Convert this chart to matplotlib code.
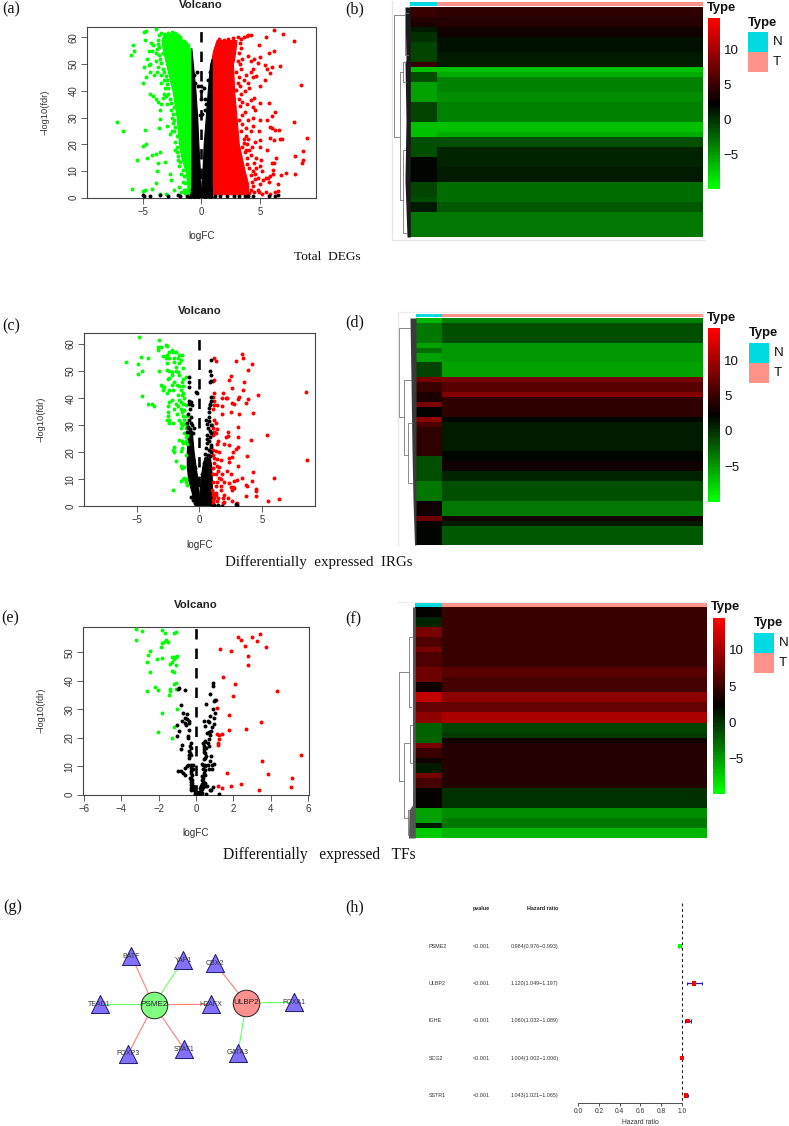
import matplotlib
matplotlib.use('Agg')
import matplotlib.pyplot as plt
from matplotlib.colors import LinearSegmentedColormap, Normalize
from matplotlib.cm import ScalarMappable
from matplotlib.transforms import blended_transform_factory

plt.rcParams['font.family'] = ['Liberation Sans', 'DejaVu Sans']

W, H = 789, 1126

# ---- panel a: dense core of the cloud is read as bands, the rest as single points
a_green_y = [1.3, 5, 10, 15, 20, 25, 30, 40, 50, 56, 59, 61.5]
a_green_left = [-1.15, -1.2, -1.35, -1.7, -1.9, -2.0, -2.1, -2.45, -3.0, -3.3, -3.4, -3.2]
a_green_right = [-.85, -.85, -.85, -.85, -.85, -.85, -.85, -.85, -.85, -.95, -1.6, -2.2]
a_black_left_y = [0, 1, 5, 10, 20, 30, 40, 50, 56]
a_black_left_out = [-1, -.92, -.86, -.85, -.85, -.85, -.85, -.85, -.85]
a_black_left_in = [0, 0, -.05, -.12, -.25, -.35, -.5, -.72, -.85]
a_black_right_y = [0, 1, 5, 10, 20, 30, 40, 50, 52]
a_black_right_in = [0, 0, .05, .1, .2, .38, .55, .75, .88]
a_black_right_out = [1, .92, .88, .88, .88, .88, .88, .88, .88]
a_red_y = [1.3, 5, 10, 20, 30, 40, 50, 52, 55, 59]
a_red_left = [.88, .88, .88, .88, .88, .88, .88, .88, 1.0, 1.3]
a_red_right = [4.0, 4.0, 3.7, 3.2, 3.0, 2.8, 2.7, 2.8, 2.9, 3.0]
a_green = [(-7.2, 28.5), (-6.7, 25), (-5.9, 3.4), (-5.5, 14), (-5.0, 2.6), (-4.8, 2.8), (-5.0, 19.5), (-4.7, 20.3),
           (-4.8, 25.3), (-4.6, 14.8), (-4.2, 16), (-3.9, 16.2), (-3.7, 13), (-3.5, 17), (-3.8, 10), (-3.9, 5.5),
           (-4.2, 3.2), (-3.5, 1.5), (-3.1, 13.2), (-3.0, 1.5), (-2.7, 8.8), (-2.6, 6.5), (-2.3, 3), (-3.6, 26),
           (-3.5, 29.5), (-2.9, 27), (-2.7, 24), (-2.5, 25), (-2.2, 21), (-2.1, 19), (-6, 53.5), (-5.8, 57),
           (-5.7, 55), (-4.9, 62), (-4.7, 62.5), (-4.8, 59), (-3.9, 63), (-4.9, 49), (-4.5, 49.5), (-5, 43),
           (-4.7, 45), (-4.4, 47), (-4.6, 52), (-4.4, 50), (-4.2, 55), (-4.1, 57), (-3.9, 54), (-3.6, 56.5),
           (-3.5, 52), (-4, 46), (-3.8, 47), (-3.4, 46), (-4.4, 39), (-4.1, 38), (-3.9, 37), (-3.7, 36),
           (-3.2, 39), (-3, 38), (-2.9, 35), (-3.4, 35), (-3.5, 33), (-2.9, 44), (-3.1, 41), (-4.3, 58),
           (-4.5, 55), (-3.7, 59), (-3.6, 61), (-3.3, 48), (-3.2, 44), (-2.8, 41), (-2.7, 37), (-2.6, 33),
           (-2.5, 30), (-2.4, 28), (-2.3, 25), (-2.3, 34), (-2.1, 17), (-2, 14), (-1.9, 12), (-1.7, 9),
           (-1.6, 6), (-1.5, 3), (-1.7, 2), (-1.9, 4), (-3.4, 61.8), (-3.1, 61.2), (-2.8, 61.6), (-2.5, 61.9),
           (-2.2, 61.5), (-2, 60.8), (-1.8, 60), (-1.5, 58.5), (-1.3, 57.8), (-1.1, 57), (-3.7, 57.5), (-3.8, 55.5),
           (-3.6, 53.5), (-3.9, 51), (-3.3, 54), (-3.4, 50.5), (-3.7, 49), (-3.2, 47), (-3, 45.5), (-3.4, 43),
           (-2.9, 42.5), (-2.8, 39), (-3.3, 37.5), (-2.6, 35.5), (-2.4, 31.5), (-2.3, 29), (-2.2, 26.5), (-2.1, 23),
           (-2.2, 18), (-1.95, 15.5), (-1.8, 13.5), (-1.6, 10.5), (-1.45, 8), (-1.35, 5.5), (-1.3, 3), (-1.4, 1.8)]
a_red = [(6.2, 62.8), (7, 61.3), (7.9, 58.5), (5.5, 60), (4.2, 61), (4.9, 57), (6.2, 55), (5.8, 54), (4, 53),
         (4.5, 52), (5, 52.5), (4.8, 50.5), (4.2, 51), (5.4, 49.5), (6.0, 49), (6.7, 49.2), (5.6, 48), (5.9, 46.5),
         (8.5, 42.3), (5.4, 44), (4.7, 45.5), (4.4, 45), (3.8, 46), (4.2, 47), (4.4, 48), (3.6, 44), (4, 43),
         (5, 42), (4.1, 41), (3.7, 40), (4.5, 37.5), (4.2, 36.5), (5.0, 35.5), (5.8, 35.5), (4.4, 34), (4.6, 33),
         (3.9, 35), (6.3, 32), (6, 30.5), (5.6, 29), (4.4, 30), (4, 29), (7.9, 28.5), (5.0, 29), (5.9, 26.5),
         (6, 26), (6.3, 25.5), (6.6, 25.3), (4.4, 27), (4.2, 25), (4.9, 25), (3.8, 26), (9.0, 22.2), (6.9, 22),
         (6.7, 22), (6.2, 21.5), (5.9, 22.5), (5, 21.5), (4.6, 21), (4, 22), (3.9, 20), (4.3, 19), (5, 19),
         (5.6, 18), (8.7, 17.5), (8, 15.5), (8.7, 14), (8.6, 13), (6.4, 15), (6, 13), (6.2, 13), (5.1, 14),
         (4.7, 15), (4.2, 16), (4.5, 13), (5, 12), (4.7, 11), (6.8, 8.5), (7.2, 9.2), (8, 9), (6.1, 10.5),
         (6.1, 9), (5.9, 8), (5.7, 7.5), (5.5, 7.5), (6.5, 5.2), (5.8, 6), (5, 5), (5.5, 2), (6.3, 2.3),
         (6.5, 2.5), (5.9, 1.3), (5.2, 1.3), (3.4, 59.5), (3.6, 60), (3.9, 60.5), (4.0, 61), (3.5, 52), (3.4, 48),
         (3.3, 42), (3.5, 36), (3.7, 32), (3.8, 23), (4.1, 18), (4.4, 10), (4.6, 7), (4.8, 3), (4.5, 2),
         (1.5, 59.5), (1.9, 59), (2.3, 59.3), (2.7, 59.8), (3.1, 60), (3.3, 58), (3.4, 56), (3.2, 54), (3.1, 51),
         (3.3, 50), (3.0, 47), (3.2, 45), (3.1, 43), (3.0, 40.5), (3.4, 39), (3.2, 37), (3.3, 34.5), (3.5, 31),
         (3.2, 29), (3.5, 27.5), (3.4, 25), (3.6, 22), (3.5, 19), (3.7, 17), (3.9, 15), (3.9, 12.5), (4.1, 11),
         (4.2, 8.5), (4.3, 6), (4.4, 4.5), (4.2, 2.8), (4.1, 1.6), (3.8, 1.4), (3.6, 20.5), (3.8, 18), (4.6, 9),
         (4.8, 7.5), (5.2, 10), (5.3, 6.5), (4.9, 2.2)]
a_black = [(-5, 1), (-4.9, .5), (-4.4, .7), (-3.5, 1), (-2.8, .5), (-2, 1), (-1.8, .8), (-1.2, .7), (-.9, .9), (1.2, .6),
           (1.6, .7), (2.2, .6), (2.8, .6), (3.2, .7), (3.7, .8), (4, .7), (4.4, .5), (6.5, .9), (6.3, .6), (5.8, .6),
           (-.4, 47), (-.25, 42), (0, 42), (0, 40), (-.05, 37), (.2, 41), (-.1, 31), (.1, 31.5), (.35, 37), (.4, 35),
           (.3, 33), (-.65, 46), (-.55, 43), (.6, 44), (.7, 47), (-1, .3), (-.6, .4), (-.3, .4), (.3, .4), (.7, .4)]

# ---- panel c
c_black_left_y = [0, 1, 5, 10, 15, 20, 25, 28]
c_black_left_out = [-.3, -.45, -.6, -.9, -1, -1, -.95, -.8]
c_black_left_in = [.1, 0, -.05, -.15, -.3, -.45, -.55, -.6]
c_black_right_y = [0, 1, 5, 10, 15, 18]
c_black_right_in = [.1, 0, .02, .1, .25, .4]
c_black_right_out = [1.5, 1.1, 1, 1, .95, .85]
c_green = [(-4.8, 62.8), (-3.2, 61.5), (-2.7, 59.5), (-2.6, 59.3), (-3.3, 59), (-3.1, 59), (-3.3, 58), (-2.2, 58),
           (-2.4, 57), (-2.1, 57), (-1.9, 57), (-2.6, 56), (-1.6, 56), (-1.4, 56), (-2.9, 55.5), (-2.7, 55),
           (-2.4, 55), (-2, 55), (-1.7, 55), (-4.7, 55.3), (-4.1, 55), (-1.5, 54), (-2.6, 53), (-2, 53.5), (-1.6, 53),
           (-5.9, 53.2), (-4.9, 52.8), (-1.9, 51.5), (-1.3, 51), (-2.6, 50.5), (-2.4, 50), (-1.9, 50), (-3.2, 50),
           (-4.6, 50.2), (-4.9, 49), (-2.2, 49.5), (-1.7, 49.5), (-2.2, 48.5), (-1.6, 48.5), (-1.1, 48), (-2.4, 47.5),
           (-2.5, 47), (-1.3, 47), (-2, 46), (-1.4, 46), (-3.1, 45), (-3, 44.5), (-2.8, 44), (-2.2, 45), (-1.8, 45),
           (-1.6, 44.5), (-1.3, 44.5), (-2.9, 43), (-2.4, 43), (-2.1, 43), (-1.5, 43), (-1.3, 42), (-2.6, 42),
           (-1.7, 41), (-1.4, 41), (-4.6, 40.8), (-1.2, 40), (-1.6, 39.5), (-2.2, 39.5), (-2.4, 38.5), (-1.5, 38.5),
           (-1.3, 38), (-1.9, 38), (-1.1, 37.5), (-4.1, 38), (-3.8, 37.8), (-3.6, 37), (-2.5, 37), (-1.7, 37),
           (-2.0, 36), (-1.5, 36), (-1.2, 35.5), (-2.5, 35), (-1.4, 35), (-1.8, 34), (-2.5, 33.5), (-1.3, 33.5),
           (-1.0, 33.5), (-2.6, 32), (-2.4, 32), (-1.6, 32), (-1.2, 32), (-2.4, 31), (-2.1, 31), (-1.5, 31),
           (-1.2, 30.5), (-1.4, 30), (-1.0, 30), (-1.5, 29), (-1.1, 29), (-1.2, 27), (-.95, 26.5), (-1.1, 25.5),
           (-1.6, 24.5), (-1.4, 24.3), (-1.1, 24), (-1.3, 23.5), (-.95, 23), (-2, 22), (-1.4, 21.7), (-2.1, 21),
           (-1.5, 20.5), (-2, 20), (-1.1, 19), (-1.9, 16.7), (-1.5, 15), (-1.2, 14.5), (-1.4, 14), (-1.2, 10.5),
           (-1.3, 10), (-1.1, 10), (-1.5, 9.5), (-1.1, 9), (-1, 8), (-2.1, 6)]
c_red = [(3.4, 56.3), (3.5, 55), (1.2, 55), (1.3, 53.7), (2.9, 53.7), (4.2, 52.8), (3.9, 50.3), (2.5, 48.3), (2.4, 46.8),
         (1.2, 46.8), (1.1, 46.5), (3.6, 46), (2.6, 43.7), (3.5, 43), (1.2, 42), (1.9, 42), (4.7, 41.2), (8.5, 42.3),
         (1.1, 40.5), (1.8, 40), (2.1, 40), (2.2, 40), (3.2, 40.3), (3.1, 39.8), (3.9, 39.7), (3.7, 38.2), (1.2, 39),
         (2.6, 38.3), (2.8, 38), (1.2, 37.3), (1.4, 37.3), (1.8, 37), (1.1, 36), (2.5, 35), (1.8, 34.3), (3.2, 34.3),
         (4.3, 34.6), (1.2, 32), (1.3, 31), (1, 30), (3.1, 29.5), (1.1, 29), (1.4, 28.5), (1.2, 27.5), (1.3, 27),
         (1.1, 26.5), (2.3, 27.5), (5.4, 26.5), (2.3, 26), (2.1, 25.5), (3.1, 25.5), (1.5, 24), (1.4, 23), (2.0, 23),
         (2.4, 22.5), (4.1, 24.5), (2.9, 21.3), (3.1, 22), (1.1, 21), (1.3, 20.5), (1.6, 20), (2.7, 20), (3.8, 18.7),
         (2.4, 18), (2.6, 18.3), (1.1, 19), (1.2, 18), (1.4, 17.5), (8.6, 17.3), (1.7, 17), (2.4, 16.5), (1.2, 16),
         (1.4, 15), (1.6, 14.5), (3.1, 15), (1.1, 14), (1.5, 13), (2.2, 13), (4.3, 12.7), (1.1, 12), (1.3, 12), (1.8, 12),
         (2.5, 12), (1.6, 10.5), (3.4, 10.3), (6, 10.5), (1.7, 10), (3.0, 9.7), (2.8, 9.3), (4.2, 9.3), (1.1, 9), (1.4, 9),
         (2, 9), (2.4, 8.7), (3.7, 7.8), (3.8, 7.5), (1.3, 7.5), (1.7, 7.5), (2.7, 7.3), (2.5, 7), (2.8, 6.8), (2.6, 6.2),
         (4.5, 6.5), (1.0, 6), (1.1, 5), (1.3, 5), (1.7, 6), (4.5, 5.5), (1.1, 4), (1.3, 4), (2, 4), (3.7, 3.8), (4.5, 3.8),
         (1.2, 3), (1.5, 3), (1.9, 3.2), (2.3, 3), (1.1, 2.2), (1.4, 2), (2.6, 2), (5.5, 1.8), (6.4, 2.6), (1.1, 1.3),
         (1.9, 1.3), (3, 1.3), (2, 1.5)]
c_black = [(-.8, 48), (-.85, 46), (-.8, 44), (-.3, 42.3), (-.2, 42), (.95, 54), (.85, 50), (.95, 48.5), (.9, 46.5), (.85, 45.8),
           (.9, 40.5), (.9, 39), (.85, 38), (.85, 37.5), (.8, 36.5), (.75, 35), (-.85, 39), (-.7, 38.5), (-.8, 38), (-.6, 37.5),
           (-.75, 36), (-.9, 34), (-.7, 33), (-.85, 32), (-.95, 31), (-.7, 31), (-.6, 30), (-.9, 29.5), (.55, 32), (.75, 33),
           (.8, 31.5), (.6, 30.5), (.9, 30), (.7, 29), (.85, 28), (.95, 27), (.6, 25), (.75, 24), (.6, 23.5), (2.9, .7),
           (3.0, .3), (1.8, .2), (1.5, .3), (-.7, 3.5), (-.5, 2.5), (1.2, .5), (1.1, .2), (.55, 21.5), (.75, 21), (.9, 22),
           (.95, 20), (.45, 19.5), (.7, 19), (.85, 18.5), (.5, 18), (-.9, 29), (-.75, 28.5), (-.95, 27.5), (-.45, 29),
           (-.5, 27), (.4, 16), (.35, 14), (.25, 12), (-.35, 14), (-.2, 10), (-.1, 8), (.95, 22.5), (.65, 26.5), (.85, 25.5)]

# ---- panel e
e_green = [(-3.2, 58.2), (-2.9, 57.5), (-1.8, 58), (-1.65, 56.7), (-1.2, 56.8), (-1.1, 57.3), (-3.2, 54.2), (-1.6, 54.3),
           (-1.7, 53.5), (-1.5, 53.7), (-1.85, 53.2), (-1.9, 52), (-2.45, 50.6), (-2.6, 49.2), (-1.85, 48), (-2.1, 47.7),
           (-1.3, 48.3), (-1.15, 48.3), (-1.05, 48.8), (-1.1, 48.2), (-1.2, 47.5), (-2.65, 46.7), (-1.3, 46.5), (-1.4, 46),
           (-1.07, 45.7), (-2.45, 43.1), (-1.3, 43.3), (-1.17, 43.2), (-1.2, 39), (-1.1, 39.2), (-2.2, 38), (-2.05, 36.8),
           (-2.65, 36.5), (-1.4, 37), (-1.4, 36.3), (-1.07, 37), (-1.45, 34.9), (-1.05, 30), (-1.85, 28.8), (-1.2, 23.9),
           (-2.05, 22), (-1.3, 19.8)]
e_red = [(3.4, 56.6), (2.25, 55.4), (3.0, 55.5), (2.4, 54.2), (3.25, 54), (2.6, 52.1), (3.75, 52), (1.3, 51.3), (1.85, 50.6),
         (2.8, 48.6), (2.8, 45.7), (1.45, 41.2), (2.1, 39), (4.35, 36.4), (1.95, 34.5), (1.08, 33.2), (1.1, 30.5), (1.75, 27.9),
         (3.5, 25.4), (1.75, 22.9), (2.65, 23), (1.1, 21.4), (1.2, 21), (1.4, 21.2), (1.2, 19.5), (1.17, 18), (1.17, 17.6),
         (5.6, 13.8), (3.55, 11.9), (1.65, 7.6), (3.85, 7.4), (5.13, 5.9), (2.4, 3.6), (1.85, 2.9), (5.1, 2.7), (1.17, 2.9),
         (1.37, 2.4), (3.35, 1.5)]
e_black = [(-.9, 37.5), (-.95, 37.2), (-.6, 36.7), (.9, 39.3), (.9, 38.2), (.75, 35.4), (1.0, 33.2), (.95, 33), (-.8, 31.6),
           (.55, 31.9), (.9, 30), (-.7, 28.6), (-.5, 28.5), (1.0, 28.8), (-.6, 27), (-.5, 26.6), (-.75, 26), (-.6, 25.3), (-.4, 26),
           (-.55, 24.5), (-1.0, 24.5), (-.4, 25.3), (.4, 25.8), (.65, 26), (.7, 25.5), (.75, 27.5), (.95, 27), (.45, 24), (.85, 23.8),
           (.95, 25), (-.9, 22.3), (-.4, 22.8), (.7, 22), (.8, 22.3), (.6, 21.5), (.75, 20.8), (-1, 20.7), (-.45, 20.5), (-.45, 20),
           (.5, 19), (.45, 18.5), (.7, 19.5), (.35, 18), (.65, 18), (-.3, 18), (-.35, 17), (-.3, 16.5), (-.75, 17.5), (-.8, 16.2),
           (.4, 17), (.55, 16.5), (.7, 17.2), (.4, 16), (-.4, 15.3), (-.35, 14.8), (.4, 15), (.5, 14.5), (.55, 13.5), (.8, 13.5),
           (-.4, 14), (-.25, 14), (-.4, 13), (.45, 13), (.4, 12.7), (.75, 12), (-.45, 10.5), (-.3, 10.5), (-.15, 10.3), (-.5, 10),
           (-.6, 9.5), (-.25, 9.5), (-.15, 9), (.3, 10.8), (.35, 10.5), (.45, 10.2), (.5, 10.3), (.65, 10.3), (.85, 10.5), (.95, 10.7),
           (.35, 9), (.5, 8.7), (.7, 9), (.85, 9), (-.95, 8.5), (-.8, 8.3), (-.7, 7.8), (-.3, 8.2), (-.25, 7.5), (-.2, 7), (-.6, 6.9),
           (.4, 7.5), (.5, 7), (.3, 6.5), (.35, 6), (-.35, 6), (-.3, 5.8), (-.25, 5), (-.2, 5.3), (-.3, 4.5), (-.2, 4.2), (-.25, 3.5),
           (-.15, 3.2), (-.2, 2.8), (-.1, 2.5), (-.15, 2), (-.1, 1.5), (-.05, 1.2), (0, 1), (.05, .5), (.1, .7), (.15, 1), (.2, .4),
           (.25, 1.5), (.3, 2), (.2, 2.5), (.35, 2.8), (.45, 3), (.25, 3.2), (.3, 3.8), (.4, 4.2), (.35, 4.8), (.3, 5.2), (.45, 4),
           (.6, 3), (.55, .4), (.9, 2.8), (.8, 1.8), (.75, 1.5), (1.2, .3), (-.3, 2.5), (-.25, 1.8), (-.05, .3), (.1, .2), (.3, .6)]

# ---- heatmaps: one value per row, for normal and for tumour samples
n_normal = 41
n_tumor = 408
b_normal = [5, 5, 4, 3.5, 1, 0, 0, -1, -1, -1, -1, 5, -7, -1.5, -1.5, -5.5, -5.5, -5.5, -5.5, -1, -1, -1, -1, -7, -7, -7,
            -1.5, -1.5, -1.5, -1.5, 1.8, 1.8, 1.8, 1.8, 1.8, -1, -1, -1, -1.5, .8, .8, -3.4, -3.4, -3.4, -3.4, -3.4]
b_tumor = [4.5, 4.5, 4, 4, 3, 3, 1.5, 1.5, 1.5, .8, .8, .8, -6.8, -6, -4, -4, -4, -4.5, -4.5, -4, -4, -4, -4,
           -6.8, -6.8, -6, -1.2, -1.2, .5, .5, .6, .6, .8, .8, .8, -3, -3, -3, -3, -2, -2, -3.4, -3.4, -3.4, -3.4, -3.4]
d_normal = [-6.5, -3.5, -3.5, -3.5, -3.5, -5.5, -3, -5.5, -5.5, -1, -1, -1, 8, 5, 5, 3.5, 3.5, 8, 2.5, 2.5, 9, 6, 4.5, 4.5, 4.5,
            4.5, 4.5, 4.5, -1.5, -1.5, -1.5, -1.5, -1.5, -3.5, -3.5, -3.5, -3.5, 3, 3, 3, 7.5, 2, 2, 2, 2, 2]
d_tumor = [-4, -1.2, -1.2, -1.2, -1.2, -5, -5, -5, -5, -5.5, -5.5, -5.5, 8, 6.5, 6.5, 8.5, 4.5, 4.5, 4.5, 4.5, 2, .8, .8, .8, .8,
           .8, .8, 2, 2, 2.8, 2.8, .5, .5, -1.5, -1.5, -1.5, -1.5, -3.5, -3.5, -3.5, 3, 1, -1.8, -1.8, -1.8, -1.8]
f_normal = [2.5, 2.5, .5, .5, 8, 8, 6, 6, 8, 6, 6, 6, 7.5, 7.5, 7.5, 3, 3, 11.5, 11.5, 7, 7, 9, 9, -2.5, -2.5, -2.5, -2.5, 8, 5, 5,
            3, 1, 1, 8, 5.5, 5.5, 2.5, 2.5, 2.5, 2.5, -5.5, -5.5, -5.5, 1, -7.5, -7.5]
f_tumor = [5, 5, 5, 5, 5, 5, 5, 5, 5, 5, 5, 5, 6.5, 6.5, 5.5, 5.5, 5.5, 9, 9, 7, 7, 10.5, 10.5, -1, -1, -.5, 3.2,
           3.8, 3.8, 3.8, 3.8, 3.8, 3.8, 3.8, 3.8, 3.8, .2, .2, .2, .2, -4.5, -4.5, -3.5, -3.5, -6.5, -6.5]
key_ticks = [-5, 0, 5, 10]

# ---- network
regulators = ['PSME2', 'ULBP2']
tf_names = ['BATF', 'YAP1', 'CBX2', 'TEAD1', 'H2AFX', 'FOXA1', 'FOXP3', 'STAT1', 'GATA3']
links = [('PSME2', 'BATF', 'r'), ('PSME2', 'YAP1', 'g'), ('PSME2', 'TEAD1', 'g'), ('PSME2', 'H2AFX', 'r'),
         ('PSME2', 'FOXP3', 'r'), ('PSME2', 'STAT1', 'r'), ('ULBP2', 'CBX2', 'r'), ('ULBP2', 'FOXA1', 'g'),
         ('ULBP2', 'GATA3', 'g')]

# ---- forest plot
genes = ['PSME2', 'ULBP2', 'IGHE', 'SCG2', 'SSTR1']
pvalues = ['<0.001'] * 5
hr = [0.984, 1.120, 1.060, 1.004, 1.043]
hr_low = [0.976, 1.049, 1.032, 1.002, 1.021]
hr_high = [0.993, 1.197, 1.089, 1.006, 1.065]

fig = plt.figure(figsize=(W / 100, H / 100), dpi=100, facecolor='white')
px = 0.72  # one pixel in points


def px_axes(x0, y0, x1, y1, **kw):
    return fig.add_axes([x0 / W, 1 - y1 / H, (x1 - x0) / W, (y1 - y0) / H], **kw)


over = px_axes(0, 0, W, H, zorder=5)
over.set_xlim(0, W)
over.set_ylim(H, 0)
over.axis('off')
over.patch.set_alpha(0)


def volcano(box, xlim, ylim, xticks, yticks, title_xy, xlabel_xy, ylabel_xy, green, red, black, dash_top, bands=()):
    ax = px_axes(*box)
    ax.set_xlim(*xlim)
    ax.set_ylim(*ylim)
    for y, left, right, col in bands:
        ax.fill_betweenx(y, left, right, color=col, lw=0.8, zorder=2)
    for pts, col in ((green, '#00ff00'), (red, '#ff0000'), (black, 'black')):
        ax.scatter([p[0] for p in pts], [p[1] for p in pts], s=8, color=col, lw=0, zorder=3, clip_on=True)
    ax.plot([0, 0], [0, dash_top], color='black', lw=2 * px * 1.3, dashes=(4, 3.5), zorder=2.5)
    ax.set_xticks(xticks)
    ax.set_xticklabels([str(v).replace('-', '\u2212') for v in xticks])
    ax.set_yticks(yticks)
    ax.tick_params(length=4, width=.6, labelsize=6.9, color='#444444', labelcolor='#333333', pad=2.5)
    for lab in ax.get_yticklabels():
        lab.set_rotation(90)
        lab.set_va('center')
    for s in ax.spines.values():
        s.set_color('#444444')
        s.set_linewidth(.8)
    over.text(*title_xy, 'Volcano', fontsize=8.2, fontweight='bold', ha='center', va='center', color='#222222')
    over.text(*xlabel_xy, 'logFC', fontsize=7.2, ha='center', va='center', color='#333333')
    over.text(*ylabel_xy, '\u2212log10(fdr)', fontsize=6.7, ha='center', va='center', rotation=90, color='#333333')
    return ax


volcano((87.3, 26.7, 316, 198.3), (-9.72, 9.78), (-.2, 64), [-5, 0, 5], [0, 10, 20, 30, 40, 50, 60],
        (201, 5), (201.5, 236), (45, 112), a_green, a_red, a_black, 62.5,
        bands=[(a_green_y, a_green_left, a_green_right, '#00ff00'),
               (a_red_y, a_red_left, a_red_right, '#ff0000'),
               (a_black_left_y, a_black_left_out, a_black_left_in, 'black'),
               (a_black_right_y, a_black_right_in, a_black_right_out, 'black')])
volcano((84.3, 333.3, 315.3, 506.3), (-9.2, 9.28), (0, 64), [-5, 0, 5], [0, 10, 20, 30, 40, 50, 60],
        (199.5, 311), (199.5, 545), (41, 419), c_green, c_red, c_black, 63,
        bands=[(c_black_left_y, c_black_left_out, c_black_left_in, 'black'),
               (c_black_right_y, c_black_right_in, c_black_right_out, 'black')])
volcano((83.3, 626.7, 309.3, 795), (-6.04, 6.06), (-.1, 59), [-6, -4, -2, 0, 2, 4, 6], [0, 10, 20, 30, 40, 50],
        (196, 605), (196, 833), (41, 710), e_green, e_red, e_black, 58.4)

# heatmap colours: green - black - red, stepped like the original key
heat_cmap = LinearSegmentedColormap.from_list('gbr', ['#00ff00', 'black', '#ff0000'], N=50)
heat_norm = Normalize(-9.97, 14.47)


def heatmap(heat_box, bar_y, split_n, normal, tumor, key_box, type_xy, legend_xy, swatch, nodes, fringe, fringe_col):
    x0, y0, x1, y1 = heat_box
    ax = px_axes(x0, y0, x1, y1)
    rows = [[a, b] for a, b in zip(normal, tumor)]
    ax.pcolormesh([0, split_n, split_n + n_tumor], range(len(rows) + 1), rows, cmap=heat_cmap, norm=heat_norm)
    ax.set_ylim(len(rows), 0)
    ax.axis('off')
    bar = px_axes(x0, bar_y[0], x1, bar_y[1])
    bar.barh(0, split_n, left=0, height=1, color='#00DAE0')
    bar.barh(0, n_tumor, left=split_n, height=1, color='#FF9289')
    bar.set_xlim(0, split_n + n_tumor)
    bar.set_ylim(-.5, .5)
    bar.axis('off')
    key = px_axes(*key_box)
    cb = fig.colorbar(ScalarMappable(norm=heat_norm, cmap=heat_cmap), cax=key)
    cb.outline.set_visible(False)
    cb.set_ticks(key_ticks)
    cb.set_ticklabels([str(v).replace('-', '\u2212') for v in key_ticks])
    cb.ax.tick_params(length=0, labelsize=9.6, pad=3, colors='#111111')
    over.text(*type_xy, 'Type', fontsize=9.4, fontweight='bold', ha='left', va='center', color='#111111')
    over.text(*legend_xy, 'Type', fontsize=9.4, fontweight='bold', ha='left', va='center', color='#111111')
    sx0, sx1, sy0, sy1, sy2 = swatch
    over.fill_between([sx0, sx1], sy0, sy1, color='#00DAE0', lw=0)
    over.fill_between([sx0, sx1], sy1, sy2, color='#FF9289', lw=0)
    over.text(sx1 + 4.5, (sy0 + sy1) / 2, 'N', fontsize=9.6, va='center', color='#111111')
    over.text(sx1 + 4.5, (sy1 + sy2) / 2, 'T', fontsize=9.6, va='center', color='#111111')
    # dendrogram, drawn schematically
    for x, yt, yb, xct, xcb in nodes:
        over.plot([xct, x, x, xcb], [yt, yt, yb, yb], color='#777777', lw=.6)
    over.fill_betweenx(fringe[0], fringe[1], x0, color=fringe_col, lw=0)


heatmap((410.3, 7, 703.3, 237.3), (2.3, 6), n_normal, b_normal, b_tumor, (708, 17.7, 719.7, 189.3),
        (706.7, 7.5), (748, 22.7), (748, 768, 32.3, 52, 71.7),
        [(394.3, 15, 136.7, 405, 400), (405, 13, 55, 408, 408), (400, 72, 200, 403, 403), (403, 62, 82, 406, 406),
         (403, 150, 233, 405, 406)],
        ([7, 60, 62, 120, 180, 237], [405, 406, 405, 406, 405, 407]), '#1a1a1a')
heatmap((416, 318, 703.3, 545.3), (314, 317.3), n_normal, d_normal, d_tumor, (708, 328.3, 720, 501.7),
        (706.7, 317.7), (749, 333.3), (749, 769, 343, 363, 382.7),
        [(399.3, 328, 416.7, 410, 404), (404, 380, 455, 411, 407.7), (407.7, 423, 483, 412, 412)],
        ([318, 380, 450, 500, 545], [410, 411, 412, 413, 414.5]), '#3a3a3a')
heatmap((415.3, 607, 707.3, 838), (603.3, 606.7), n_normal, f_normal, f_tumor, (712.7, 617.7, 724.7, 794),
        (711.3, 606.7), (754, 623), (754, 774.3, 633, 653.3, 672.7),
        [(398.7, 671.7, 780.7, 409, 404.3), (409, 636.7, 706.7, 412, 411), (404.3, 742.7, 818.3, 410, 407.7),
         (410, 725, 763, 412, 412), (407.7, 810, 835, 409, 409)],
        ([607, 720, 805, 810, 838], [412.5, 412.5, 412.5, 409, 408.5]), '#555555')

# faint frames round the heatmaps
over.plot([392, 392, 705], [1, 240, 240], color='#e6e6e6', lw=.9)
over.plot([398.3, 398.3], [545, 312], color='#e6e6e6', lw=.9)
over.plot([398.3, 704], [312, 312], color='#ececec', lw=.9)
over.plot([398.3, 707], [602, 602], color='#ececec', lw=.9)

# panel labels and captions
panel_labels = {'(a)': (2, 9), '(b)': (345, 9), '(c)': (2, 326), '(d)': (345, 322), '(e)': (1, 618), '(f)': (345, 619),
                '(g)': (3, 907), '(h)': (345, 907)}
for lab, xy in panel_labels.items():
    over.text(*xy, lab, family='Liberation Serif', fontsize=11.6, ha='left', va='center', color='#111111')
captions = [('Total  DEGs', 327.5, 257, 9.6), ('Differentially  expressed  IRGs', 319, 562, 10.8),
            ('Differentially   expressed   TFs', 319, 855, 11.2)]
for cap, x, y, size in captions:
    over.text(x, y, cap, family='Liberation Serif', fontsize=size, ha='center', va='center', color='#111111')

# network
node_xy = {'PSME2': (153.7, 1004.7), 'ULBP2': (246.3, 1003), 'BATF': (131.3, 956), 'YAP1': (183.3, 960),
           'CBX2': (214.7, 963.3), 'TEAD1': (99.7, 1004.3), 'H2AFX': (210.7, 1004.3), 'FOXA1': (294.3, 1002.3),
           'FOXP3': (128.3, 1053.7), 'STAT1': (184.3, 1049.3), 'GATA3': (238, 1052.7)}
for a, b, kind in links:
    over.plot([node_xy[a][0], node_xy[b][0]], [node_xy[a][1], node_xy[b][1]],
              color='#ff7f7f' if kind == 'r' else '#66ff66', lw=.8, zorder=1)
for name in tf_names:
    over.scatter(*node_xy[name], marker='^', s=170, color='#8470ff', edgecolor='#1a1a66', lw=.7, zorder=2)
    over.text(*node_xy[name], name, fontsize=5, ha='center', va='center', color='#333333', zorder=4)
for name, col in zip(regulators, ['#80ff80', '#ff9090']):
    over.scatter(*node_xy[name], marker='o', s=365, color=col, edgecolor='#222222', lw=.7, zorder=2)
    over.text(*node_xy[name], name, fontsize=5.9, ha='center', va='center', color='#222222', zorder=4)

# forest plot
fax = px_axes(578.3, 903, 723, 1103.3)
fax.patch.set_alpha(0)
fax.set_xlim(0, (723 - 578.3) / 103.3)
fax.set_ylim(4.206, -1.15)
rows = list(range(len(genes)))
fax.plot([1, 1], [-1.15, 4.206], color='#222222', lw=.8, dashes=(2.6, 2.4), zorder=1)
fax.hlines(rows, hr_low, hr_high, color='#2222aa', lw=.9, zorder=2)
fax.vlines(hr_low + hr_high, [r - .05 for r in rows] * 2, [r + .05 for r in rows] * 2, color='#2222aa', lw=.8, zorder=2)
fax.scatter(hr, rows, marker='s', s=10, color=['#00ff00' if v < 1 else '#ff0000' for v in hr], lw=0, zorder=3)
for s in ['top', 'left', 'right']:
    fax.spines[s].set_visible(False)
fax.spines['bottom'].set_bounds(0, 1)
fax.spines['bottom'].set_color('#333333')
fax.spines['bottom'].set_linewidth(.6)
fax.set_yticks([])
fax.set_xticks([0, .2, .4, .6, .8, 1.0])
fax.set_xticklabels(['0.0', '0.2', '0.4', '0.6', '0.8', '1.0'])
fax.tick_params(axis='x', length=2.3, width=.6, labelsize=4.8, pad=1.2, color='#333333', labelcolor='#333333')
tr = blended_transform_factory(over.transData, fax.transData)
for r, g, p, a, b, c in zip(rows, genes, pvalues, hr, hr_low, hr_high):
    fax.text(428.7, r, g, transform=tr, fontsize=3.9, va='center', ha='left', color='#333333')
    fax.text(481, r, p, transform=tr, fontsize=3.9, va='center', ha='center', color='#333333')
    fax.text(558.3, r, f'{a:.3f}({b:.3f}\u2212{c:.3f})', transform=tr, fontsize=3.9, va='center', ha='right', color='#333333')
over.text(481, 908.7, 'pvalue', fontsize=3.9, fontweight='bold', ha='center', va='center', color='#222222')
over.text(558.3, 908.7, 'Hazard ratio', fontsize=3.9, fontweight='bold', ha='right', va='center', color='#222222')
over.text(640, 1122.3, 'Hazard ratio', fontsize=4.9, ha='center', va='center', color='#333333')

fig.savefig('out.png', dpi=100)
